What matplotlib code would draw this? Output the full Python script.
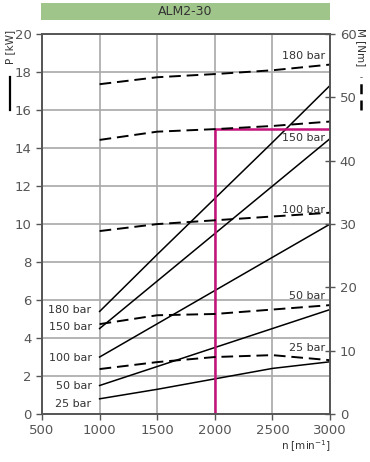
import matplotlib.pyplot as plt
from matplotlib.patches import Rectangle

rpm = [1000, 1500, 2000, 2500, 3000]

# power P [kW] (solid, left axis)
p_180 = [5.4, 8.4, 11.35, 14.3, 17.3]
p_150 = [4.5, 7.0, 9.5, 12.0, 14.5]
p_100 = [3.0, 4.75, 6.5, 8.25, 10.0]
p_50 = [1.5, 2.5, 3.5, 4.5, 5.5]
p_25 = [0.8, 1.3, 1.85, 2.4, 2.75]

# torque M [Nm] (dashed, right axis)
m_180 = [52.1, 53.2, 53.7, 54.3, 55.2]
m_150 = [43.3, 44.6, 45.0, 45.5, 46.2]
m_100 = [28.9, 30.0, 30.6, 31.2, 31.8]
m_50 = [14.2, 15.6, 15.8, 16.5, 17.2]
m_25 = [7.1, 8.2, 9.0, 9.3, 8.5]

p_labels = ["180 bar", "150 bar", "100 bar", "50 bar", "25 bar"]
p_label_y = [5.45, 4.6, 2.95, 1.45, 0.55]
m_label_y = [18.85, 14.55, 10.75, 6.2, 3.45]

op_rpm = 2000
op_power = 15

grey = "#555555"
grid_c = "#a8a8a8"

fig = plt.figure(figsize=(3.7, 4.62), dpi=100)
ax = fig.add_axes([0.1135, 0.1039, 0.7785, 0.8221])
ax2 = ax.twinx()

ax.set_xlim(500, 3000)
ax.set_ylim(0, 20)
ax2.set_ylim(0, 60)
ax.set_xticks([500, 1000, 1500, 2000, 2500, 3000])
ax.set_yticks(range(0, 21, 2))
ax2.set_yticks(range(0, 61, 10))
ax.grid(True, color=grid_c, lw=1.2)
ax.set_axisbelow(True)

for a in (ax, ax2):
    for s in a.spines.values():
        s.set_color(grey)
        s.set_linewidth(1.2)
    a.tick_params(colors=grey, labelsize=9.5, length=4, width=1)
ax2.tick_params(direction="inout", length=7)

for p in (p_180, p_150, p_100, p_50, p_25):
    ax.plot(rpm, p, color="black", lw=1.1)
for m in (m_180, m_150, m_100, m_50, m_25):
    ax2.plot(rpm, m, color="black", lw=1.4, dashes=(6, 3))

ax.plot([op_rpm, op_rpm, 3000], [0, op_power, op_power], color="#c4127a", lw=1.8)

for lab, y in zip(p_labels, p_label_y):
    ax.text(930, y, lab, ha="right", va="center", fontsize=8, color="#333333")
for lab, y in zip(p_labels, m_label_y):
    ax.text(2960, y, lab, ha="right", va="center", fontsize=8, color="#333333")

fig.text(0.895, 0.018, "n [min$^{-1}$]", ha="right", va="bottom", fontsize=7.5, color="#333333")

# title bar
fig.patches.append(Rectangle((0.111, 0.957), 0.781, 0.037, transform=fig.transFigure,
                             facecolor="#a0c58a", edgecolor="none"))
fig.text(0.5, 0.975, "ALM2-30", ha="center", va="center", fontsize=9, color="#333333")

# axis labels with line legends
fig.text(0.027, 0.898, "P [kW]", rotation=90, ha="center", va="center", fontsize=7.5, color="#333333")
fig.add_artist(plt.Line2D([0.027, 0.027], [0.762, 0.833], color="black", lw=1.6,
                          transform=fig.transFigure))
fig.text(0.975, 0.898, "M [Nm]", rotation=270, ha="center", va="center", fontsize=7.5, color="#333333")
fig.add_artist(plt.Line2D([0.975, 0.975], [0.762, 0.833], color="black", lw=1.8,
                          dashes=(4, 2.5), transform=fig.transFigure))

fig.savefig("out.png", dpi=100)
